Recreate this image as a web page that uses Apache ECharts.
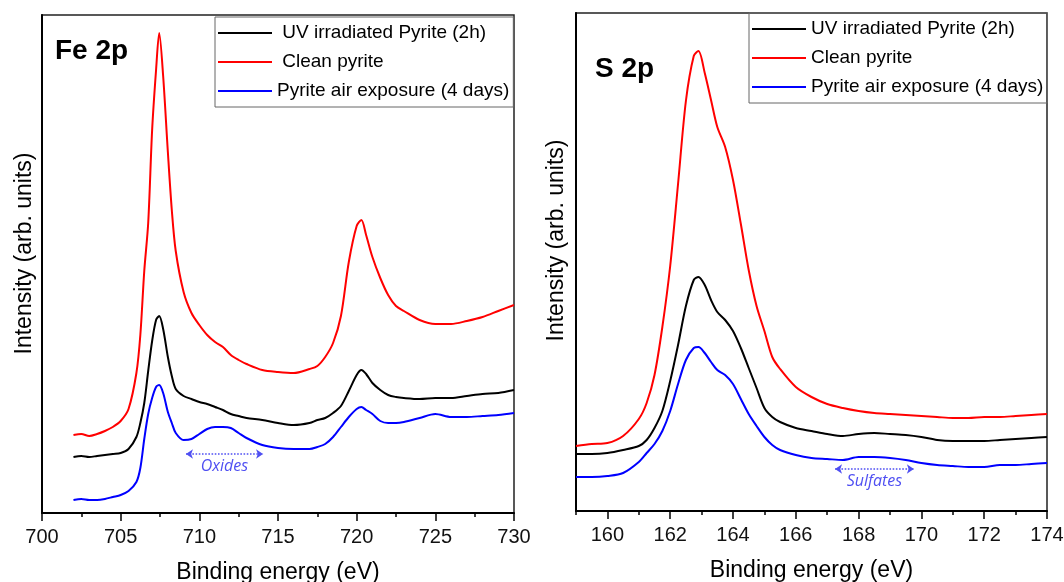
<!DOCTYPE html>
<html>
<head>
<meta charset="utf-8">
<script src="https://cdn.jsdelivr.net/npm/echarts@6/dist/echarts.min.js"></script>
<style>
  html, body { margin: 0; padding: 0; background: #fff; }
  #chart { width: 1064px; height: 582px; }
</style>
</head>
<body>
<div id="chart"></div>
<script>
(function () {

    var seriesNames = ['UV irradiated Pyrite (2h)', 'Clean pyrite', 'Pyrite air exposure (4 days)'];
    var seriesColors = ['#000000', '#ff0000', '#0000ff'];

    // Fe 2p panel
    var feEnergy = [702, 702.5, 703, 703.5, 704, 704.5, 705, 705.5, 706, 706.25, 706.5, 706.75,
        707, 707.25, 707.45, 707.7, 708, 708.25, 708.5, 709, 709.5, 710, 710.5, 711, 711.5,
        712, 712.5, 713, 714, 715, 716, 717, 717.5, 718, 718.5, 719, 719.5, 720, 720.3, 720.6,
        721, 721.5, 722, 722.5, 723, 724, 725, 726, 727, 728, 729, 730];
    var feUV = [56, 57, 56, 57, 58, 59, 60, 64, 76, 90, 110, 142,
        172, 193, 197, 184, 156, 137, 124, 117, 114, 111, 109, 106, 103,
        99, 97, 95, 93, 90, 88, 90, 93, 95, 100, 107, 122, 138, 143, 139,
        130, 123, 118, 116, 115, 114, 115, 115, 117, 119, 120, 123];
    var feClean = [78, 79, 77, 79, 82, 86, 92, 104, 140, 178, 242, 290,
        383, 443, 480, 437, 361, 303, 262, 221, 200, 188, 178, 171, 166,
        158, 153, 149, 143, 141, 140, 144, 147, 156, 170, 197, 251, 287, 293, 278,
        256, 235, 218, 207, 202, 193, 189, 189, 192, 196, 202, 208];
    var feAir = [13, 14, 13, 13, 14, 16, 18, 22, 31, 45, 74, 99,
        115, 126, 128, 120, 101, 90, 80, 73, 74, 79, 84, 86, 86,
        85, 80, 75, 68, 65, 64, 64, 66, 69, 76, 86, 96, 104, 106, 103,
        99, 92, 90, 90, 91, 95, 99, 96, 96, 97, 98, 100];
    var feOxides = [709.15, 714.05];
    var feOxidesLevel = 59;

    // S 2p panel
    var sEnergy = [159, 159.5, 160, 160.5, 161, 161.25, 161.5, 161.75, 162, 162.25, 162.5, 162.75,
        162.9, 163.1, 163.3, 163.5, 163.75, 164, 164.25, 164.5, 164.75, 165, 165.25, 165.5,
        166, 166.5, 167, 167.5, 168, 168.5, 169, 169.5, 170, 170.5, 171, 171.5, 172, 172.5,
        173, 173.5, 174];
    var sUV = [57, 57, 58, 61, 65, 71, 83, 100, 130, 166, 205, 231,
        234, 226, 211, 199, 191, 180, 163, 143, 123, 103, 94, 89,
        83, 80, 77, 75, 77, 78, 77, 76, 74, 71, 70, 70, 70, 71,
        72, 73, 74];
    var sClean = [65, 67, 68, 75, 92, 108, 136, 184, 245, 327, 410, 455,
        460, 438, 411, 384, 364, 331, 287, 241, 205, 180, 154, 142,
        124, 114, 107, 103, 100, 98, 97, 96, 95, 94, 93, 93, 94, 94,
        95, 96, 97];
    var sAir = [34, 34, 35, 38, 49, 58, 67, 80, 100, 127, 151, 163,
        164, 158, 149, 141, 136, 127, 112, 97, 85, 74, 66, 61,
        56, 53, 52, 51, 54, 54, 53, 51, 48, 46, 45, 44, 44, 46,
        46, 47, 48];
    var sMajorTicks = [160, 162, 164, 166, 168, 170, 172, 174];
    var sMinorTicks = [159, 161, 163, 165, 167, 169, 171, 173];
    var sSulfates = [167.25, 169.76];
    var sSulfatesLevel = 42;

    var annotColor = '#4f4ff2';
    var labelFont = 'Liberation Sans, Arial, sans-serif';

    function pairs(xs, ys) {
        return xs.map(function (x, i) { return [x, ys[i]]; });
    }

    function arrowMark(range, level, text) {
        return {
            silent: true,
            animation: false,
            symbol: ['arrow', 'arrow'],
            symbolSize: 7,
            lineStyle: { color: annotColor, type: 'dotted', width: 1.6 },
            label: {
                show: true,
                formatter: text,
                position: 'insideMiddleBottom',
                distance: 4,
                color: annotColor,
                fontStyle: 'italic',
                fontSize: 16,
                fontFamily: 'Open Sans'
            },
            emphasis: { disabled: true },
            data: [[{ coord: [range[0], level] }, { coord: [range[1], level] }]]
        };
    }

    function lineSeries(nameIdx, xIdx, yIdx, data, mark) {
        var s = {
            name: seriesNames[nameIdx],
            type: 'line',
            xAxisIndex: xIdx,
            yAxisIndex: yIdx,
            data: data,
            symbol: 'none',
            smooth: 0.3,
            color: seriesColors[nameIdx],
            lineStyle: { width: 2, color: seriesColors[nameIdx] }
        };
        if (mark) s.markLine = mark;
        return s;
    }

    var xName = {
        name: 'Binding energy (eV)',
        nameLocation: 'middle',
        nameGap: 48,
        nameTextStyle: { fontSize: 23, color: '#000', fontFamily: labelFont }
    };

    function yAxis(gridIndex, gap, shift) {
        return {
            type: 'value',
            gridIndex: gridIndex,
            min: 0,
            max: 498,
            name: 'Intensity (arb. units)',
            nameLocation: 'middle',
            nameGap: gap,
            nameTextStyle: { fontSize: 23, color: '#000', fontFamily: labelFont, padding: [0, 0, 0, shift] },
            axisLine: { show: true, lineStyle: { color: '#000', width: 2 } },
            axisTick: { show: false },
            axisLabel: { show: false },
            splitLine: { show: false }
        };
    }

    function legend(left, top, leadSpace) {
        return {
            orient: 'vertical',
            left: left,
            top: top,
            data: seriesNames,
            icon: 'rect',
            itemWidth: 54,
            itemHeight: 2,
            itemGap: 9,
            padding: [6, 4, 6, 3],
            borderColor: '#666',
            borderWidth: 1,
            formatter: function (name) {
                return (leadSpace && name !== seriesNames[2]) ? ' ' + name : name;
            },
            textStyle: { fontSize: 19, lineHeight: 20, color: '#000', fontFamily: labelFont }
        };
    }

    var chart = echarts.init(document.getElementById('chart'));

    var option = {
        animation: false,
        backgroundColor: '#fff',
        grid: [
            { left: 42, top: 15, width: 472, height: 498, outerBoundsMode: 'none',
                show: true, borderColor: '#222', borderWidth: 1.5 },
            { left: 576, top: 13, width: 471, height: 498, outerBoundsMode: 'none',
                show: true, borderColor: '#222', borderWidth: 1.5 }
        ],
        xAxis: [
            Object.assign({
                type: 'value',
                gridIndex: 0,
                min: 700,
                max: 730,
                interval: 5,
                axisLine: { lineStyle: { color: '#000', width: 2 } },
                axisTick: { show: true, inside: false, length: 8, lineStyle: { color: '#000', width: 1.5 } },
                minorTick: { show: true, splitNumber: 2, length: 4, lineStyle: { color: '#000', width: 1.5 } },
                axisLabel: { fontSize: 20, color: '#111', margin: 14, fontFamily: labelFont },
                splitLine: { show: false }
            }, xName),
            Object.assign({
                type: 'value',
                gridIndex: 1,
                min: 159,
                max: 174,
                axisLine: { lineStyle: { color: '#000', width: 2 } },
                axisTick: { show: true, inside: false, length: 8, customValues: sMajorTicks,
                    lineStyle: { color: '#000', width: 1.5 } },
                axisLabel: { fontSize: 20, color: '#111', margin: 14, fontFamily: labelFont,
                    customValues: sMajorTicks },
                splitLine: { show: false }
            }, xName),
            {
                type: 'value',
                gridIndex: 1,
                position: 'bottom',
                min: 159,
                max: 174,
                axisLine: { show: false },
                axisTick: { show: true, inside: false, length: 4, customValues: sMinorTicks,
                    lineStyle: { color: '#000', width: 1.5 } },
                axisLabel: { show: false },
                splitLine: { show: false }
            }
        ],
        yAxis: [yAxis(0, 6, 21), yAxis(1, 8, 43)],
        legend: [legend(215, 17, true), legend(749, 13, false)],
        graphic: [
            { type: 'text', left: 55, top: 37, style: { text: 'Fe 2p', font: 'bold 28px ' + labelFont, fill: '#000' } },
            { type: 'text', left: 595, top: 55, style: { text: 'S 2p', font: 'bold 28px ' + labelFont, fill: '#000' } }
        ],
        series: [
            lineSeries(1, 0, 0, pairs(feEnergy, feClean)),
            lineSeries(0, 0, 0, pairs(feEnergy, feUV)),
            lineSeries(2, 0, 0, pairs(feEnergy, feAir), arrowMark(feOxides, feOxidesLevel, 'Oxides')),
            lineSeries(1, 1, 1, pairs(sEnergy, sClean)),
            lineSeries(0, 1, 1, pairs(sEnergy, sUV)),
            lineSeries(2, 1, 1, pairs(sEnergy, sAir), arrowMark(sSulfates, sSulfatesLevel, 'Sulfates'))
        ]
    };

    chart.setOption(option);
})();
</script>
</body>
</html>
